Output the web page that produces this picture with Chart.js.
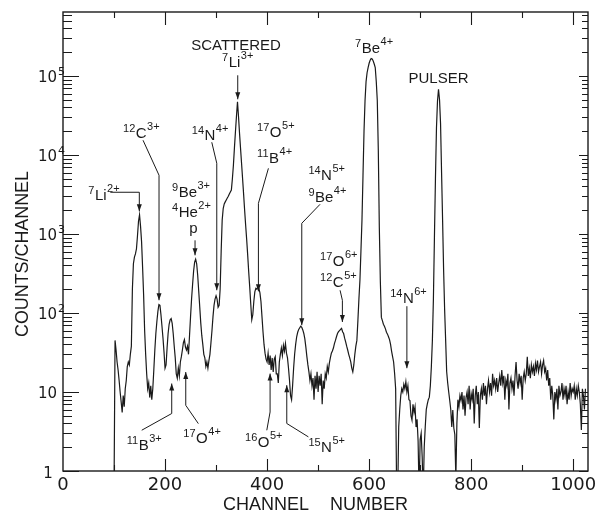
<!DOCTYPE html>
<html>
<head>
<meta charset="utf-8">
<script src="https://cdn.jsdelivr.net/npm/chart.js@4.4.1/dist/chart.umd.min.js"></script>
<style>
  html, body { margin: 0; padding: 0; background: #fff; }
</style>
</head>
<body>
<canvas id="chart" width="595" height="512"></canvas>
<script>
// spectrum: one value every 2 channels, starting at channel 100
const firstChannel = 100;
const binWidth = 2;
const counts = [
  0.5, 45, 34, 24, 19, 14, 10, 7.5, 5.5, 9,                       // 100
  6.5, 11, 14, 21, 24, 22, 30, 38, 200, 420,                      // 120
  510, 560, 650, 950, 1450, 1750, 1250, 800, 380, 170,            // 140
  60, 30, 17, 11, 13, 8.5, 12, 8, 11, 19,                         // 160
  34, 55, 78, 105, 128, 125, 95, 68, 48, 32,                      // 180
  20, 22, 36, 55, 72, 82, 85, 74, 55, 38,                         // 200
  27, 17, 15, 20, 16, 24, 28, 34, 42, 46,                         // 220
  37, 34, 38, 30, 52, 90, 150, 230, 340, 440,                     // 240
  480, 420, 300, 190, 120, 75, 52, 40, 30, 27,                    // 260
  21, 24, 20, 25, 30, 42, 60, 90, 125, 150,                       // 280
  165, 150, 118, 125, 200, 600, 1500, 2100, 2400, 2550,           // 300
  2700, 2850, 3000, 3200, 3400, 3600, 5000, 7400, 12300, 19700,   // 320
  31000, 47000, 30700, 18800, 12100, 7800, 5000, 3200, 2000, 1290,// 340
  850, 540, 330, 212, 130, 82, 95, 140, 185, 205,                 // 360
  200, 215, 205, 180, 140, 90, 58, 40, 31, 26,                    // 380
  24, 31, 22, 29, 19, 27, 18, 26, 28, 17,                         // 400
  17, 13, 24, 30, 36, 29, 39, 33, 41, 31,                         // 420
  27, 20, 14, 9, 8, 12, 20, 30, 40, 50,                           // 440
  57, 62, 65, 68, 66, 61, 55, 47, 37, 28,                         // 460
  22, 18, 14, 17, 12, 15, 8, 16, 11, 18,                          // 480
  10, 16, 12, 17, 7, 14, 11, 17, 15, 21,                          // 500
  18, 23, 27, 31, 33, 36, 41, 45, 50, 55,                         // 520
  58, 60, 62, 64, 58, 55, 48, 43, 38, 34,                         // 540
  30, 27, 24, 20, 18, 22, 30, 38, 45, 80,                         // 560
  150, 260, 620, 1500, 5500, 20000, 49000, 85000, 110000, 128000, // 580
  145000, 158000, 166000, 164000, 155000, 142000, 128000, 85000, 49000, 11500, // 600
  1200, 250, 88, 80, 72, 68, 63, 57, 54, 50,                      // 620
  46, 40, 33, 28, 24, 17, 11, 0.5, 0.5, 3.6,                      // 640
  6, 9, 11, 10, 12.5, 11, 13.5, 10, 12, 8,                        // 660
  7.8, 5, 4.4, 7, 5.5, 6.5, 3.6, 4.5, 2.4, 0.5,                   // 680
  2.5, 3, 1.5, 0.5, 2, 3.6, 6, 7, 8, 8.6,                         // 700
  12, 21, 45, 150, 900, 5000, 22000, 48000, 68000, 50000,         // 720
  25000, 6000, 1500, 350, 110, 45, 18, 13, 10, 7.8,               // 740
  6, 3.6, 5.9, 3.5, 2.9, 0.8, 4, 8, 6.5, 9,                       // 760
  7.8, 10, 6, 9, 5, 8.5, 10, 7, 12, 6,                            // 780
  9.5, 8, 11, 4, 9, 12, 7, 10, 3.5, 9,                            // 800
  11, 8, 13, 9, 12, 7, 11, 14, 10, 13,                            // 820
  9, 17, 12, 14, 11, 15, 10, 13, 16, 12,                          // 840
  19, 13, 16, 8, 14, 12, 17, 6, 13, 15,                           // 860
  11, 14, 9, 16, 24, 14, 11, 17, 13, 16,                          // 880
  8, 15, 18, 14, 17, 28, 16, 20, 15, 22,                          // 900
  18, 21, 16, 23, 19, 25, 18, 21, 24, 17,                         // 920
  22, 25, 18, 20, 14, 19, 12, 15, 8, 12,                          // 940
  9, 4.5, 10, 8, 11, 6, 12, 9, 10, 13,                            // 960
  8, 11, 9, 12, 7, 10, 8, 13, 9, 11,                              // 980
  10, 12, 8, 11, 9, 12, 10, 7, 3.3, 11,                           // 1000
  9, 6, 11                                                        // 1020
];

const xTicks = [0, 200, 400, 600, 800, 1000];
const yDecades = [0, 1, 2, 3, 4, 5];

// peak labels: arrow tip in data units (channel, counts), leader bends and text in pixel offsets from the tip
const peakLabels = [
  { ch: 149.6, v: 1940, leader: [[0, -19], [-29, -19]], text: [{ m: "7", s: "Li", q: "2+", dx: -51, dy: -11 }] },
  { ch: 188.2, v: 145, leader: [[0, -125], [-16, -160]], text: [{ m: "12", s: "C", q: "3+", dx: -36, dy: -162 }] },
  { ch: 258.8, v: 537, leader: [[0, -15]], text: [
      { m: "9", s: "Be", q: "3+", dx: -23, dy: -58 },
      { m: "4", s: "He", q: "2+", dx: -23, dy: -38 },
      { s: "p", dx: -5.7, dy: -22 }] },
  { ch: 301.4, v: 194, leader: [[0, -127], [-5, -148]], text: [{ m: "14", s: "N", q: "4+", dx: -25, dy: -150 }] },
  { ch: 342.5, v: 50700, leader: [[0, -24]], text: [
      { plain: "SCATTERED", dx: -1.7, dy: -49 },
      { m: "7", s: "Li", q: "3+", dx: -15.7, dy: -32 }] },
  { ch: 383, v: 188, leader: [[0, -88], [10, -123]], text: [
      { m: "17", s: "O", q: "5+", dx: -1.3, dy: -154 },
      { m: "11", s: "B", q: "4+", dx: -1.3, dy: -128 }] },
  { ch: 605, v: 167500, leader: null, text: [{ m: "7", s: "Be", q: "4+", dx: -16.6, dy: -5 }] },
  { ch: 736, v: 69900, leader: null, text: [{ plain: "PULSER", dx: 0, dy: -5.5 }] },
  { ch: 468, v: 69.9, leader: [[0, -102], [18.3, -121]], text: [
      { m: "14", s: "N", q: "5+", dx: 6.6, dy: -145 },
      { m: "9", s: "Be", q: "4+", dx: 6.6, dy: -123 }] },
  { ch: 547.6, v: 76.9, leader: [[0, -21.7], [-2.3, -31.7]], text: [
      { m: "17", s: "O", q: "6+", dx: -22.3, dy: -55.7 },
      { m: "12", s: "C", q: "5+", dx: -22.3, dy: -35 }] },
  { ch: 674, v: 20, leader: [[0, -62]], text: [{ m: "14", s: "N", q: "6+", dx: -16.7, dy: -65 }] },
  { ch: 213.1, v: 12.8, leader: [[0, 30], [-30, 46.7]], text: [{ m: "11", s: "B", q: "3+", dx: -45, dy: 66.7 }] },
  { ch: 240.6, v: 17.9, leader: [[0, 33.3], [12.6, 51.6]], text: [{ m: "17", s: "O", q: "4+", dx: -2.4, dy: 71.3 }] },
  { ch: 405.9, v: 17.1, leader: [[0, 38.4], [-3.3, 56.7]], text: [{ m: "16", s: "O", q: "5+", dx: -25, dy: 73.4 }] },
  { ch: 438.6, v: 12.2, leader: [[0, 38.3], [21.6, 51.7]], text: [{ m: "15", s: "N", q: "5+", dx: 21.6, dy: 66.7 }] }
];

const INK = "#1a1a1a";
const SUP_FONT = '11px "Liberation Sans"';
const SYM_FONT = '15px "Liberation Sans"';

const points = counts.map((c, i) => ({ x: firstChannel + i * binWidth, y: c }));

function drawIon(ctx, x, y, lab) {
  ctx.textAlign = "left";
  if (lab.plain) {
    ctx.font = SYM_FONT;
    ctx.textAlign = "center";
    ctx.fillText(lab.plain, x, y);
    return;
  }
  let cx = x;
  if (lab.m) {
    ctx.font = SUP_FONT;
    ctx.fillText(lab.m, cx, y - 6);
    cx += ctx.measureText(lab.m).width + 0.5;
  }
  ctx.font = SYM_FONT;
  ctx.fillText(lab.s, cx, y);
  cx += ctx.measureText(lab.s).width + 0.5;
  if (lab.q) {
    ctx.font = SUP_FONT;
    ctx.fillText(lab.q, cx, y - 8);
  }
}

const axisFrame = {
  id: "axisFrame",
  afterDraw(chart) {
    const { ctx, chartArea: a } = chart;
    const x = chart.scales.x;
    const y = chart.scales.y;
    ctx.save();
    ctx.strokeStyle = INK;
    ctx.fillStyle = INK;

    ctx.lineWidth = 1.4;
    ctx.strokeRect(a.left, a.top, a.right - a.left, a.bottom - a.top);

    // ticks point inwards on all four sides
    ctx.lineWidth = 1.1;
    ctx.beginPath();
    for (let c = 100; c <= 1000; c += 100) {
      const px = Math.round(x.getPixelForValue(c)) + 0.5;
      const major = c % 200 === 0;
      ctx.moveTo(px, a.bottom);
      ctx.lineTo(px, a.bottom - (major ? 12 : 6));
      ctx.moveTo(px, a.top);
      ctx.lineTo(px, a.top + (major ? 13 : 6));
    }
    for (const d of yDecades) {
      for (let m = 1; m <= 9; m++) {
        const v = m * Math.pow(10, d);
        if (v > y.max) break;
        const py = Math.round(y.getPixelForValue(v)) + 0.5;
        const major = m === 1;
        ctx.moveTo(a.left, py);
        ctx.lineTo(a.left + (major ? 16 : 9), py);
        ctx.moveTo(a.right, py);
        ctx.lineTo(a.right - (major ? 9 : 6), py);
      }
    }
    ctx.stroke();

    // tick labels
    ctx.font = '18px "DejaVu Sans"';
    ctx.textAlign = "center";
    ctx.textBaseline = "alphabetic";
    xTicks.forEach(t => ctx.fillText(String(t), x.getPixelForValue(t), 490));

    yDecades.forEach(d => {
      const py = y.getPixelForValue(Math.pow(10, d));
      ctx.font = '15px "DejaVu Sans"';
      if (d === 0) {
        ctx.textAlign = "center";
        ctx.fillText("1", 48, py + 6.5);
        return;
      }
      ctx.textAlign = "left";
      ctx.fillText("10", 38, py + 6.5);
      if (d > 1) {
        const w = ctx.measureText("10").width;
        ctx.font = '11px "DejaVu Sans"';
        ctx.fillText(String(d), 38 + w + 1, py - 1);
      }
    });

    // axis titles
    ctx.font = '18px "Liberation Sans"';
    ctx.textAlign = "left";
    ctx.fillText("CHANNEL", 223, 510);
    ctx.fillText("NUMBER", 330, 510);
    ctx.save();
    ctx.translate(28, 254);
    ctx.rotate(-Math.PI / 2);
    ctx.textAlign = "center";
    ctx.fillText("COUNTS/CHANNEL", 0, 0, 166);
    ctx.restore();

    // peak labels with leaders and arrowheads
    ctx.lineWidth = 1;
    peakLabels.forEach(p => {
      const tx = x.getPixelForValue(p.ch);
      const ty = y.getPixelForValue(p.v);
      if (p.leader) {
        ctx.beginPath();
        ctx.moveTo(tx, ty);
        p.leader.forEach(([dx, dy]) => ctx.lineTo(tx + dx, ty + dy));
        ctx.stroke();
        const [fx, fy] = p.leader[0];
        const len = Math.hypot(fx, fy);
        const ux = -fx / len, uy = -fy / len;
        const bx = tx - ux * 7, by = ty - uy * 7;
        ctx.beginPath();
        ctx.moveTo(tx, ty);
        ctx.lineTo(bx - uy * 2.5, by + ux * 2.5);
        ctx.lineTo(bx + uy * 2.5, by - ux * 2.5);
        ctx.closePath();
        ctx.fill();
      }
      p.text.forEach(t => drawIon(ctx, tx + t.dx, ty + t.dy, t));
    });
    ctx.restore();
  }
};

new Chart(document.getElementById("chart"), {
  type: "line",
  data: {
    datasets: [{
      data: points,
      borderColor: INK,
      borderWidth: 1.2,
      pointRadius: 0,
      tension: 0,
      fill: false
    }]
  },
  options: {
    responsive: false,
    animation: false,
    layout: { padding: { left: 63, right: 7, top: 12, bottom: 41 } },
    plugins: { legend: { display: false }, tooltip: { enabled: false } },
    scales: {
      x: { type: "linear", min: 0, max: 1029, display: false },
      y: { type: "logarithmic", min: 1, max: Math.pow(10, 5.81), display: false }
    }
  },
  plugins: [axisFrame]
});
</script>
</body>
</html>
